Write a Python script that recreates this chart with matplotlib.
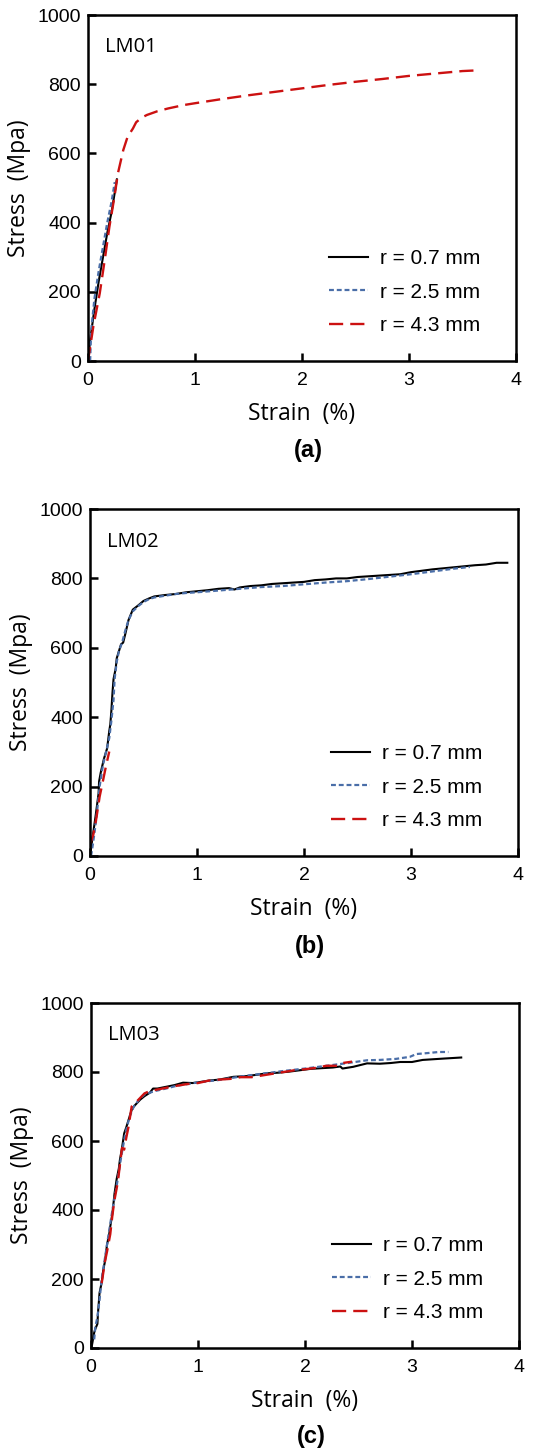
import matplotlib
matplotlib.use("Agg")
import matplotlib.pyplot as plt

# ---------------- data ----------------
series_labels = ["r = 0.7 mm", "r = 2.5 mm", "r = 4.3 mm"]
panel_names = ["LM01", "LM02", "LM03"]
panel_tags = ["(a)", "(b)", "(c)"]
x_ticks = [0, 1, 2, 3, 4]
y_ticks = [0, 200, 400, 600, 800, 1000]

# LM01
a_r07_x = [0, 0.02, 0.06, 0.10, 0.14, 0.18, 0.22, 0.27]
a_r07_y = [0, 60, 150, 230, 300, 370, 430, 525]
a_r25_x = [0.02, 0.03, 0.06, 0.10, 0.14, 0.18, 0.22, 0.25]
a_r25_y = [0, 90, 180, 260, 330, 400, 460, 517]
a_r43_x = [0, 0.05, 0.11, 0.16, 0.20, 0.25, 0.28, 0.33, 0.37, 0.42, 0.45, 0.50, 0.55,
           0.65, 0.75, 0.90, 1.0, 1.25, 1.5, 1.75, 2.0, 2.25, 2.5, 2.75, 3.0, 3.25, 3.5, 3.64]
a_r43_y = [0, 100, 196, 300, 388, 480, 543, 610, 648, 672, 690, 703, 711,
           722, 730, 740, 745, 757, 768, 778, 788, 798, 807, 815, 824, 831, 838, 840]

# LM02
b_r07_x = [0, 0.02, 0.05, 0.08, 0.085, 0.10, 0.13, 0.16, 0.18, 0.19, 0.20, 0.21, 0.22, 0.24,
           0.25, 0.27, 0.29, 0.31, 0.33, 0.36, 0.40, 0.45, 0.50, 0.55, 0.60, 0.65, 0.70, 0.80,
           0.90, 1.0, 1.1, 1.2, 1.3, 1.35, 1.4, 1.5, 1.6, 1.7, 1.8, 1.9, 2.0, 2.1, 2.2, 2.3,
           2.4, 2.5, 2.6, 2.7, 2.8, 2.9, 3.0, 3.2, 3.4, 3.6, 3.7, 3.8, 3.9]
b_r07_y = [0, 45, 110, 180, 215, 240, 280, 310, 360, 380, 420, 470, 510, 540,
           570, 590, 610, 615, 640, 680, 710, 722, 735, 742, 748, 750, 752, 755,
           760, 763, 766, 770, 772, 768, 774, 778, 780, 784, 786, 788, 790, 795, 797, 800,
           800, 804, 806, 808, 810, 812, 818, 826, 832, 838, 840, 845, 845]
b_r25_x = [0.01, 0.03, 0.06, 0.09, 0.12, 0.15, 0.18, 0.20, 0.22, 0.23, 0.25, 0.27, 0.30,
           0.33, 0.36, 0.40, 0.45, 0.50, 0.55, 0.60, 0.70, 0.80, 0.90, 1.0, 1.2, 1.4, 1.6,
           1.8, 2.0, 2.2, 2.4, 2.6, 2.8, 3.0, 3.2, 3.4, 3.55]
b_r25_y = [0, 40, 110, 200, 260, 300, 340, 390, 450, 510, 560, 590, 615,
           650, 680, 705, 720, 732, 740, 745, 750, 755, 758, 760, 765, 770, 775,
           778, 783, 788, 792, 798, 805, 812, 820, 828, 833]
b_r43_x = [0, 0.03, 0.06, 0.09, 0.12, 0.15, 0.18]
b_r43_y = [35, 60, 110, 171, 215, 260, 301]

# LM03
c_r07_x = [0.01, 0.03, 0.04, 0.06, 0.065, 0.08, 0.10, 0.115, 0.13, 0.15, 0.17, 0.18, 0.20,
           0.22, 0.24, 0.26, 0.27, 0.29, 0.31, 0.33, 0.35, 0.38, 0.40, 0.43, 0.46, 0.50,
           0.55, 0.58, 0.62, 0.70, 0.78, 0.86, 0.95, 1.02, 1.1, 1.2, 1.33, 1.45, 1.55, 1.64,
           1.75, 1.85, 1.95, 2.05, 2.15, 2.26, 2.33, 2.35, 2.45, 2.58, 2.7, 2.8, 2.89, 3.0,
           3.1, 3.2, 3.3, 3.46]
c_r07_y = [10, 45, 55, 70, 100, 160, 190, 227, 250, 300, 330, 352, 390,
           448, 490, 520, 545, 580, 622, 640, 660, 690, 700, 710, 720, 730,
           740, 752, 752, 757, 762, 769, 768, 771, 775, 778, 786, 788, 792, 796,
           798, 801, 805, 809, 811, 813, 816, 810, 815, 825, 824, 826, 829, 829,
           835, 837, 839, 842]
c_r25_x = [0.03, 0.04, 0.06, 0.08, 0.10, 0.13, 0.16, 0.20, 0.24, 0.28, 0.32, 0.36, 0.40,
           0.45, 0.50, 0.60, 0.70, 0.80, 0.90, 1.0, 1.2, 1.4, 1.6, 1.8, 2.0, 2.2, 2.4,
           2.58, 2.7, 2.85, 2.98, 3.04, 3.15, 3.25, 3.34]
c_r25_y = [25, 60, 90, 140, 200, 260, 320, 400, 470, 550, 620, 670, 700,
           720, 735, 745, 752, 760, 765, 770, 777, 787, 795, 803, 810, 818, 826,
           834, 835, 838, 844, 852, 855, 858, 858]
c_r43_x = [0.10, 0.13, 0.15, 0.18, 0.20, 0.22, 0.25, 0.27, 0.29, 0.31, 0.33, 0.35, 0.38,
           0.42, 0.46, 0.50, 0.55, 0.60, 0.70, 0.80, 0.90, 1.0, 1.1, 1.2, 1.3, 1.4, 1.5,
           1.6, 1.7, 1.8, 1.9, 2.0, 2.1, 2.2, 2.3, 2.35, 2.44]
c_r43_y = [188, 250, 280, 330, 385, 430, 480, 530, 580, 575, 610, 640, 700,
           712, 725, 738, 745, 748, 754, 760, 765, 768, 775, 778, 780, 785, 785,
           790, 795, 800, 805, 808, 812, 818, 818, 826, 830]

panels = [
    [(a_r07_x, a_r07_y), (a_r25_x, a_r25_y), (a_r43_x, a_r43_y)],
    [(b_r07_x, b_r07_y), (b_r25_x, b_r25_y), (b_r43_x, b_r43_y)],
    [(c_r07_x, c_r07_y), (c_r25_x, c_r25_y), (c_r43_x, c_r43_y)],
]

# ---------------- style ----------------
W, H = 534, 1452
DPI = 100
fig = plt.figure(figsize=(W / DPI, H / DPI), dpi=DPI)

num_font = ["Liberation Sans", "DejaVu Sans"]
lab_font = ["Open Sans", "DejaVu Sans"]

styles = [
    dict(color="black", lw=1.5, ls="-"),
    dict(color="#4a6ea8", lw=1.6, ls=(0, (2.2, 1.3))),
    dict(color="#cc1111", lw=1.7, ls=(0, (6, 3))),
]

# axes boxes in pixels: left, top, right, bottom
boxes = [(88, 15, 516, 361), (90, 509, 518, 856), (91, 1003, 519, 1348)]
tag_y = [450, 947, 1437]

for i, (box, data) in enumerate(zip(boxes, panels)):
    l, t, r, b = box
    ax = fig.add_axes([l / W, 1 - b / H, (r - l) / W, (b - t) / H])
    handles = []
    for (xs, ys), st, lab in zip(data, styles, series_labels):
        h, = ax.plot(xs, ys, color=st["color"], lw=st["lw"], linestyle=st["ls"], label=lab)
        handles.append(h)
    ax.set_xlim(0, 4)
    ax.set_ylim(0, 1000)
    ax.set_xticks(x_ticks)
    ax.set_yticks(y_ticks)
    ax.tick_params(direction="in", length=6, width=1.8, labelsize=14)
    ax.tick_params(axis="x", pad=8)
    ax.tick_params(axis="y", pad=5)
    for lbl in ax.get_xticklabels() + ax.get_yticklabels():
        lbl.set_family(num_font)
    for sp in ax.spines.values():
        sp.set_linewidth(1.8)
    ax.set_xlabel("Strain  (%)", fontsize=16.5, family=lab_font, labelpad=9)
    ax.set_ylabel("Stress  (Mpa)", fontsize=16.5, family=lab_font, labelpad=5)
    ax.text(0.04, 0.935, panel_names[i], transform=ax.transAxes, fontsize=14.5,
            family=lab_font, va="top", ha="left")
    leg = ax.legend(handles=handles, loc="lower right", bbox_to_anchor=(0.96, 0.02),
                    frameon=False, handlelength=1.9, handletextpad=0.55,
                    labelspacing=0.7, prop={"family": num_font, "size": 15})
    fig.text(((l + r) / 2 + 6) / W, 1 - tag_y[i] / H, panel_tags[i], ha="center",
             va="center", fontsize=17, fontweight="bold", family=num_font)

fig.savefig("out.png", dpi=DPI)
